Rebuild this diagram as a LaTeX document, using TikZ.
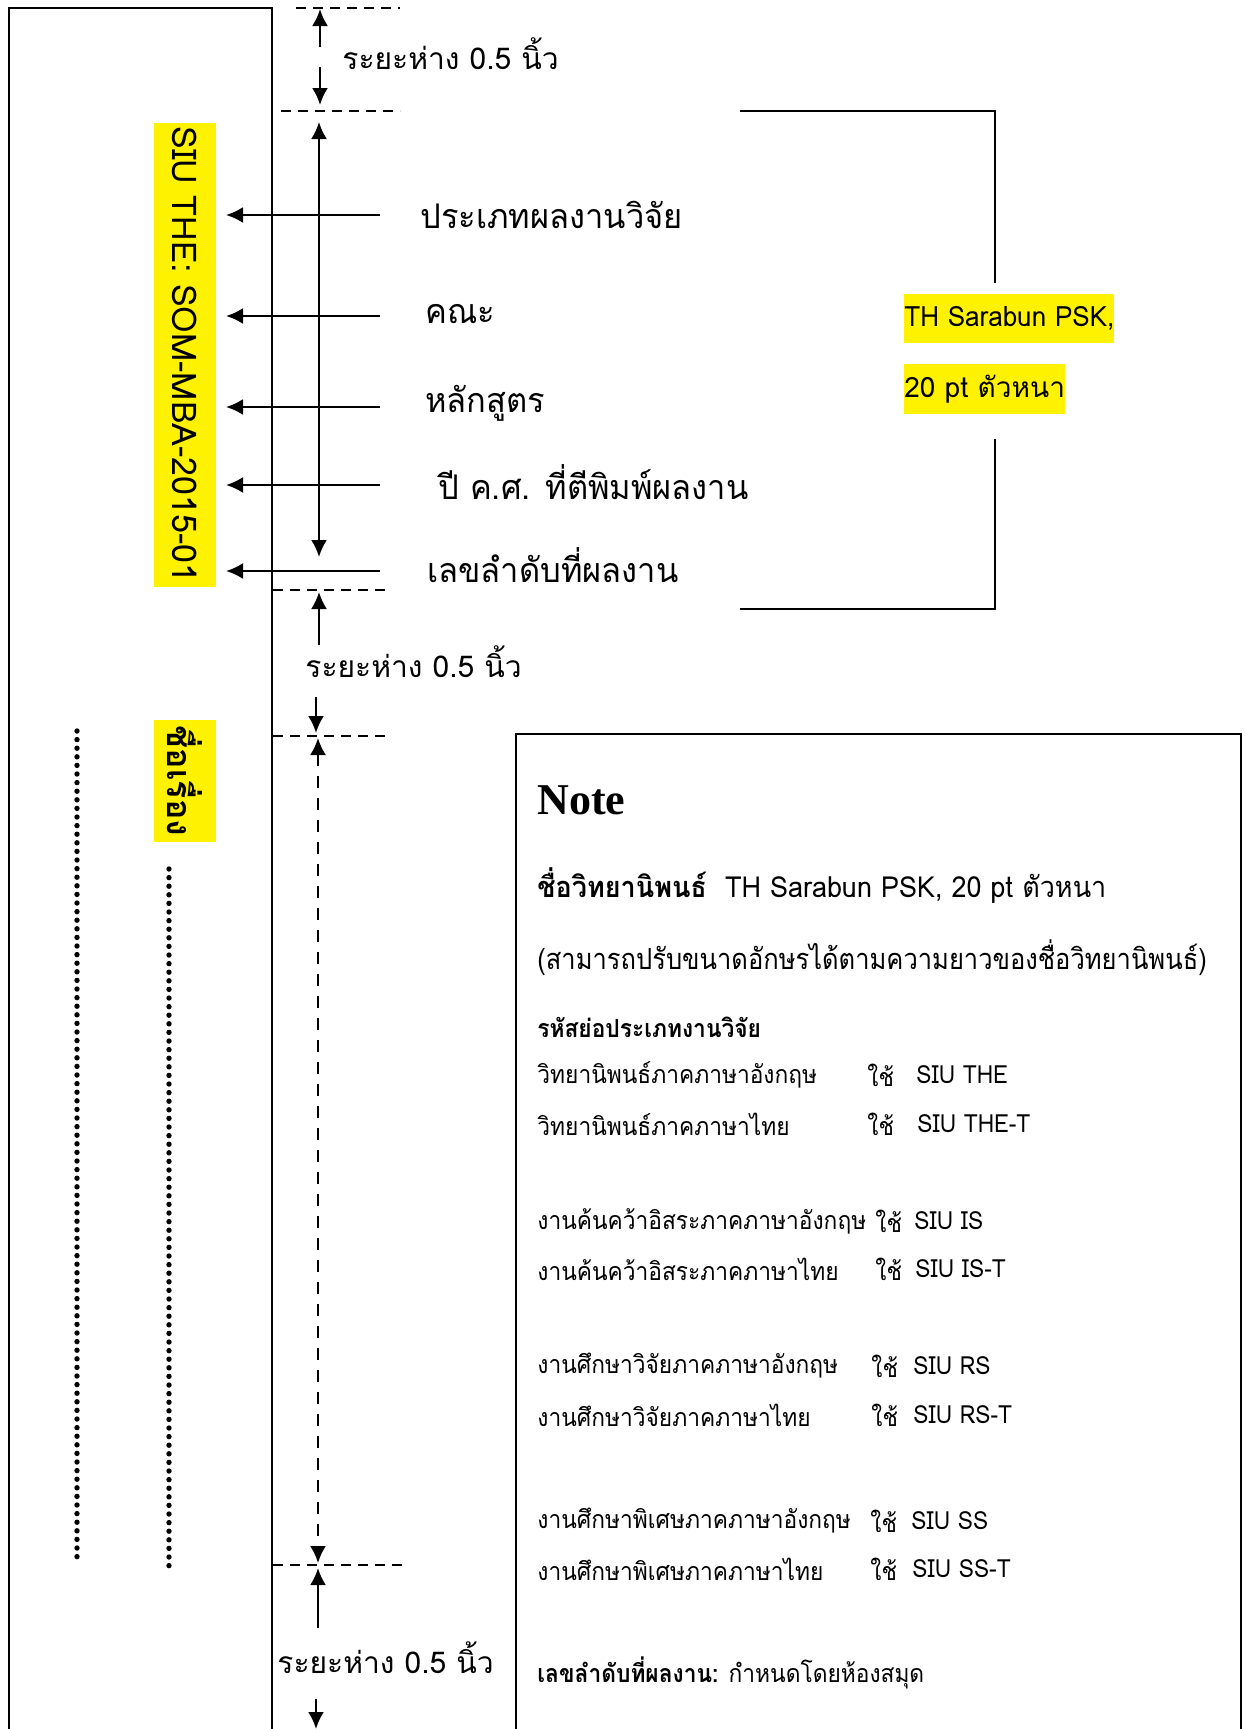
\documentclass[tikz,border=0pt]{standalone}
\usepackage{fontspec}
\setmainfont[Script=Thai]{Loma}
\newfontfamily\nfa[Script=Thai,FakeStretch=0.91]{Loma}
\newfontfamily\nfb[Script=Thai,FakeStretch=0.88]{Loma}
\newfontfamily\nfc[Script=Thai,FakeStretch=0.93]{Loma}
\newfontfamily\nfd[Script=Thai,FakeStretch=0.96]{Loma}
\newfontfamily\serifnote{Liberation Serif}
\usetikzlibrary{arrows.meta}
\tikzset{
  ln/.style={line width=1pt},
  arr/.style={line width=1.2pt,-{Latex[length=8.5pt,width=8pt]}},
  darr/.style={line width=1.2pt,{Latex[length=8.5pt,width=8pt]}-{Latex[length=8.5pt,width=8pt]}},
  dashln/.style={line width=0.9pt, dash pattern=on 5pt off 3.5pt},
  dasharr/.style={line width=1.1pt, dash pattern=on 6pt off 5pt,{Latex[length=8.5pt,width=8pt]}-{Latex[length=8.5pt,width=8pt]}},
  big/.style={font=\nfd\fontsize{17}{20}\selectfont, inner sep=0pt, anchor=west},
  gap/.style={font=\fontsize{15}{18}\selectfont, inner sep=0pt, anchor=west},
  hl/.style={fill=yellow, inner xsep=0pt, inner ysep=0pt},
  notebig/.style={font=\nfc\fontsize{14.5}{17}\selectfont, inner sep=0pt, anchor=west},
  notetxt/.style={font=\nfa\fontsize{12.5}{15}\selectfont, inner sep=0pt, anchor=west},
  dotln/.style={line width=2.7pt, line cap=round, dash pattern=on 0pt off 4.3pt},
}
\begin{document}
\begin{tikzpicture}[x=0.5pt,y=-0.5pt]
\useasboundingbox (0,0) rectangle (1245,1729);
% left page strip
\draw[ln] (9,1729) -- (9,8) -- (272,8) -- (272,1729);
% top gap
\coordinate (t1a) at (296,8);   \coordinate (t1b) at (400,8);
\coordinate (t2a) at (281,111); \coordinate (t2b) at (400,111);
\draw[dashln] (t1a) -- (t1b);
\draw[dashln] (t2a) -- (t2b);
\node[gap] (gap1) at (342,54) {ระยะห่าง 0.5 นิ้ว};
\coordinate (g1u) at (320,47); \coordinate (g1ut) at (320,9);
\coordinate (g1d) at (320,67); \coordinate (g1dt) at (320,105);
\draw[arr] (g1u) -- (g1ut);
\draw[arr] (g1d) -- (g1dt);
% long double arrow
\coordinate (la) at (319,122); \coordinate (lb) at (319,557);
\draw[darr] (la) -- (lb);
% spine label
\node[hl, rotate=-90, minimum width=232pt, minimum height=31pt,
      font=\fontsize{17}{20}\selectfont] (spine) at (185,354.5) {SIU THE: SOM-MBA-2015-01};
% labels with arrows
\node[big] (l1) at (420,215) {ประเภทผลงานวิจัย};
\node[big] (l2) at (425,314) {คณะ};
\node[big] (l3) at (425,403) {หลักสูตร};
\node[big] (l4) at (438,482) {ปี ค.ศ. ที่ตีพิมพ์ผลงาน};
\node[big] (l5) at (427,565) {เลขลำดับที่ผลงาน};
\foreach \yy [count=\i] in {215,316,407,485,571}{
  \coordinate (s\i) at (380,\yy); \coordinate (e\i) at (226,\yy);
  \draw[arr] (s\i) -- (e\i);
}
% bracket and font note
\coordinate (b1) at (740,111); \coordinate (b2) at (995,111); \coordinate (b3) at (995,283);
\coordinate (b4) at (995,439); \coordinate (b5) at (995,609); \coordinate (b6) at (740,609);
\draw[ln] (b1) -- (b2) -- (b3);
\draw[ln] (b4) -- (b5) -- (b6);
\node[hl, anchor=west, minimum height=24.5pt, font=\nfc\fontsize{14}{16}\selectfont] (f1) at (904,318) {TH Sarabun PSK,};
\node[hl, anchor=west, minimum height=25pt, font=\fontsize{14}{16}\selectfont] (f2) at (904,389) {20 pt ตัวหนา};
% middle gap
\coordinate (m1a) at (273,590); \coordinate (m1b) at (391,590);
\coordinate (m2a) at (273,736); \coordinate (m2b) at (391,736);
\draw[dashln] (m1a) -- (m1b);
\draw[dashln] (m2a) -- (m2b);
\node[gap] (gap2) at (305,662) {ระยะห่าง 0.5 นิ้ว};
\coordinate (g2u) at (319,645); \coordinate (g2ut) at (319,592);
\coordinate (g2d) at (316,697); \coordinate (g2dt) at (316,733);
\draw[arr] (g2u) -- (g2ut);
\draw[arr] (g2d) -- (g2dt);
% title area
\node[hl, rotate=-90, minimum width=61pt, minimum height=31pt,
      font=\fontsize{17}{20}\selectfont\bfseries] (title) at (185,781) {ชื่อเรื่อง};
\coordinate (dl1a) at (77,731);  \coordinate (dl1b) at (77,1560);
\coordinate (dl2a) at (169,869); \coordinate (dl2b) at (169,1566);
\draw[dotln] (dl1a) -- (dl1b);
\draw[dotln] (dl2a) -- (dl2b);
\coordinate (ta) at (318,738); \coordinate (tb) at (318,1563);
\draw[dasharr] (ta) -- (tb);
% bottom gap
\coordinate (n1a) at (273,1565); \coordinate (n1b) at (405,1565);
\draw[dashln] (n1a) -- (n1b);
\node[gap] (gap3) at (277,1658) {ระยะห่าง 0.5 นิ้ว};
\coordinate (g3u) at (318,1628); \coordinate (g3ut) at (318,1568);
\coordinate (g3d) at (316,1699); \coordinate (g3dt) at (316,1729);
\draw[arr] (g3u) -- (g3ut);
\draw[arr] (g3d) -- (g3dt);
% note box
\coordinate (nb1) at (516,1729); \coordinate (nb2) at (516,734);
\coordinate (nb3) at (1241,734); \coordinate (nb4) at (1241,1729);
\draw[ln] (nb1) -- (nb2) -- (nb3) -- (nb4);
\node[inner sep=0pt, anchor=west, font=\serifnote\bfseries\fontsize{22}{26}\selectfont] (note) at (537,800) {Note};
\node[notebig] (n1) at (537,886) {\textbf{ชื่อวิทยานิพนธ์}\ \ TH Sarabun PSK, 20 pt ตัวหนา};
\node[notebig, font=\nfb\fontsize{14.5}{17}\selectfont] (n2) at (537,958) {(สามารถปรับขนาดอักษรได้ตามความยาวของชื่อวิทยานิพนธ์)};
\node[notetxt] (n3) at (537,1027) {\textbf{รหัสย่อประเภทงานวิจัย}};
\node[notetxt] (r1) at (537,1075) {วิทยานิพนธ์ภาคภาษาอังกฤษ};
\node[notetxt] (u1) at (867,1075) {ใช้};
\node[notetxt] (c1) at (916,1075) {SIU THE};
\node[notetxt] (r2) at (537,1124) {วิทยานิพนธ์ภาคภาษาไทย};
\node[notetxt] (u2) at (867,1124) {ใช้};
\node[notetxt] (c2) at (917,1124) {SIU THE-T};
\node[notetxt] (r3) at (537,1221) {งานค้นคว้าอิสระภาคภาษาอังกฤษ};
\node[notetxt] (u3) at (875,1221) {ใช้};
\node[notetxt] (c3) at (914,1221) {SIU IS};
\node[notetxt] (r4) at (537,1269) {งานค้นคว้าอิสระภาคภาษาไทย};
\node[notetxt] (u4) at (875,1269) {ใช้};
\node[notetxt] (c4) at (915,1269) {SIU IS-T};
\node[notetxt] (r5) at (537,1366) {งานศึกษาวิจัยภาคภาษาอังกฤษ};
\node[notetxt] (u5) at (871,1366) {ใช้};
\node[notetxt] (c5) at (913,1366) {SIU RS};
\node[notetxt] (r6) at (537,1415) {งานศึกษาวิจัยภาคภาษาไทย};
\node[notetxt] (u6) at (871,1415) {ใช้};
\node[notetxt] (c6) at (913,1415) {SIU RS-T};
\node[notetxt] (r7) at (537,1521) {งานศึกษาพิเศษภาคภาษาอังกฤษ};
\node[notetxt] (u7) at (870,1521) {ใช้};
\node[notetxt] (c7) at (911,1521) {SIU SS};
\node[notetxt] (r8) at (537,1569) {งานศึกษาพิเศษภาคภาษาไทย};
\node[notetxt] (u8) at (870,1569) {ใช้};
\node[notetxt] (c8) at (912,1569) {SIU SS-T};
\node[notetxt] (n4) at (537,1673) {\textbf{เลขลำดับที่ผลงาน:} กำหนดโดยห้องสมุด};
\end{tikzpicture}
\end{document}
